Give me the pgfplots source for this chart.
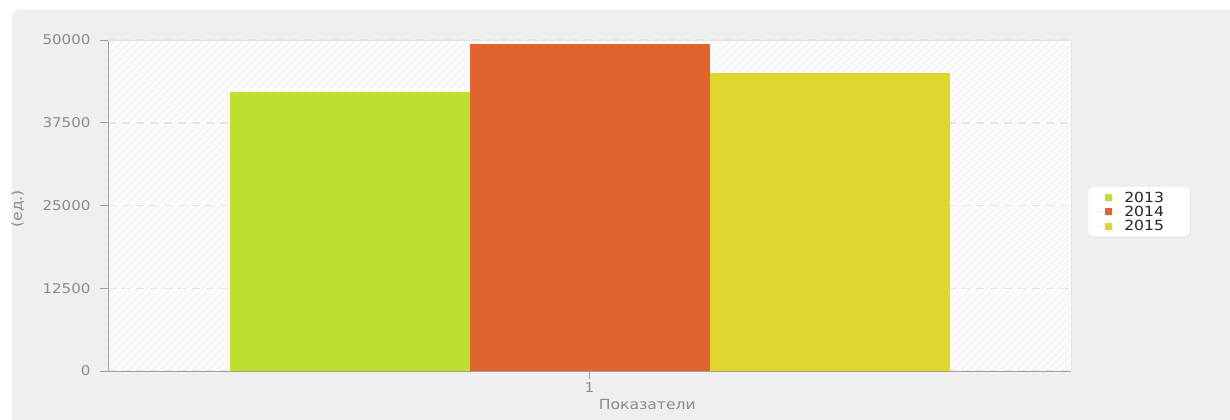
\documentclass[border=0pt]{standalone}
\usepackage{pgfplots}
\pgfplotsset{compat=1.18}
\usepackage{fontspec}
\setmainfont[FakeStretch=1.12]{DejaVu Sans}
\usetikzlibrary{patterns.meta,shadows}
\definecolor{panel}{RGB}{239,239,239}
\definecolor{cgreen}{RGB}{189,224,47}
\definecolor{corange}{RGB}{224,100,46}
\definecolor{cyellow}{RGB}{223,214,46}
\definecolor{ticktxt}{RGB}{140,140,140}
\definecolor{axisgray}{RGB}{160,160,160}
\begin{document}
\begin{tikzpicture}[x=1bp,y=1bp]
\useasboundingbox (0,0) rectangle (1230,419);
\fill[white] (0,0) rectangle (1230,419);
\fill[panel, rounded corners=8bp] (12,-20) rectangle (1250,409);
\draw[black!7, rounded corners=8bp] (12,-20) -- (12,409) -- (1250,409);
\begin{axis}[
  at={(108bp,48bp)}, anchor=south west,
  scale only axis, width=963bp, height=331bp,
  ybar=0pt, bar width=240bp,
  xmin=0.5, xmax=1.5, ymin=0, ymax=50000,
  xtick={1}, xticklabels={1},
  ytick={0,12500,25000,37500,50000},
  /pgf/number format/.cd, 1000 sep={}, assume math mode=true, /pgfplots/.cd,
  scaled y ticks=false,
  axis lines*=left,
  axis line style={draw=axisgray, line width=1bp, -},
  tick style={draw=axisgray, line width=1bp},
  tick align=outside, major tick length=8bp,
  ticklabel style={font=\fontsize{13.5}{14}\selectfont, text=ticktxt},
  yticklabel style={xshift=-6bp},
  ymajorgrids, grid style={dash pattern=on 8bp off 6bp, black!10, line width=1.5bp},
  axis background/.style={preaction={fill=black!3}, pattern={Lines[angle=45,distance=6bp,line width=2bp]}, pattern color=white},
  ylabel={(ед.)},
  ylabel style={at={(axis description cs:-0.094,0.49)}, anchor=center, rotate=0, font=\fontsize{14}{14}\selectfont, text=ticktxt},
  xlabel={Показатели},
  xlabel style={at={(axis description cs:0.56,-0.1)}, anchor=center, font=\fontsize{14}{14}\selectfont, text=ticktxt},
  legend style={at={(axis description cs:1.0177,0.556)}, anchor=north west,
    fill=white, draw=none, rounded corners=6bp, drop shadow={opacity=0.12, shadow xshift=1bp, shadow yshift=-1bp},
    font=\fontsize{14}{14}\selectfont, text=black!85,
    row sep=-1.5bp, inner xsep=8bp, inner ysep=2.5bp, cells={anchor=west}},
  legend image code/.code={\path (0bp,0bp) -- (26bp,0bp); \fill[#1, sharp corners] (9bp,-3.5bp) rectangle (16bp,3.5bp);},
]
\addplot[fill=cgreen, draw=none] coordinates {(1,42100)};
\addplot[fill=corange, draw=none] coordinates {(1,49400)};
\addplot[fill=cyellow, draw=none] coordinates {(1,45000)};
\legend{2013\rule{16bp}{0pt},2014\rule{16bp}{0pt},2015\rule{16bp}{0pt}}
\end{axis}
\draw[black!10] (108,379) -- (1071,379) -- (1071,48);
\end{tikzpicture}
\end{document}
